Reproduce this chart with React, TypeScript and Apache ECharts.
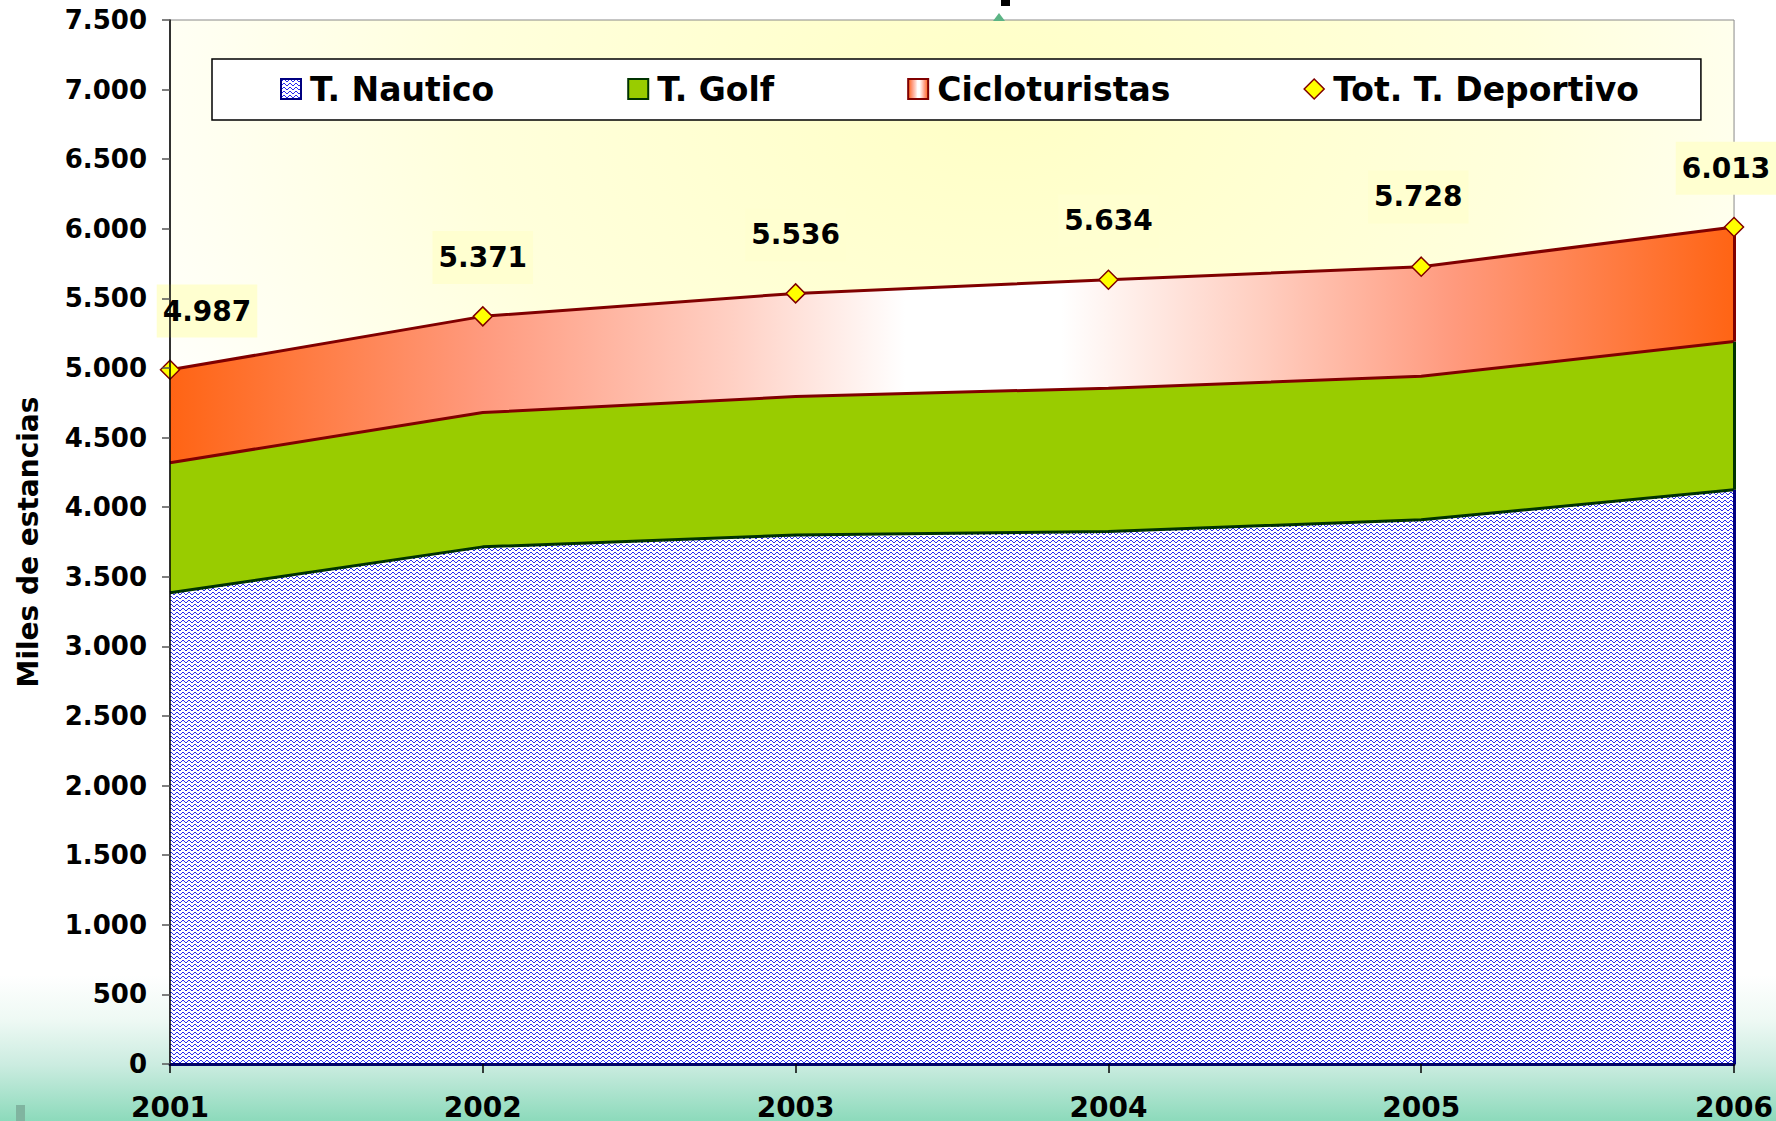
import React, { useEffect, useRef } from "react";
import * as echarts from "echarts";

const years = ["2001", "2002", "2003", "2004", "2005", "2006"];
const nautico = [3385, 3715, 3800, 3825, 3910, 4125];
const golf = [935, 965, 995, 1030, 1030, 1065];
const ciclo = [667, 691, 741, 779, 788, 823];
const total = [4987, 5371, 5536, 5634, 5728, 6013];
const yMin = 0;
const yMax = 7500;
const yStep = 500;
const legendNames = ["T. Nautico", "T. Golf", "Cicloturistas", "Tot. T. Deportivo"];
const yAxisName = "Miles de estancias";

const FONT = "DejaVu Sans";

function fmt(v: number) {
  return String(Math.round(v)).replace(/\B(?=(\d{3})+(?!\d))/g, ".");
}

function makePattern() {
  const c = document.createElement("canvas");
  c.width = 6;
  c.height = 4;
  const ctx = c.getContext("2d")!;
  ctx.fillStyle = "#ffffff";
  ctx.fillRect(0, 0, 6, 4);
  ctx.fillStyle = "#2a2aee";
  const rows = ["..XX..", ".X..X.", "X....X", "......"];
  rows.forEach((r, y) => {
    for (let x = 0; x < r.length; x++) if (r[x] === "X") ctx.fillRect(x, y, 1, 1);
  });
  return c;
}

export default function App() {
  const ref = useRef<HTMLDivElement>(null);
  useEffect(() => {
    if (!ref.current) return;
    const chart = echarts.init(ref.current, undefined, { renderer: "svg" });
    const pattern = { image: makePattern(), repeat: "repeat" } as any;
    const cicloGrad = () =>
      new echarts.graphic.LinearGradient(0, 0, 1, 0, [
        { offset: 0, color: "#ff6414" },
        { offset: 0.2, color: "#ff9a7e" },
        { offset: 0.36, color: "#ffd0c4" },
        { offset: 0.47, color: "#ffffff" },
        { offset: 0.57, color: "#ffffff" },
        { offset: 0.7, color: "#ffcdbf" },
        { offset: 0.82, color: "#ff9a7e" },
        { offset: 1, color: "#ff6414" },
      ]);
    const legendText = {
      fontSize: 33,
      fontWeight: "bold",
      fontFamily: FONT,
      color: "#000",
      lineHeight: 36,
      padding: [0, 0, 0, 4],
    };
    const last = years.length - 1;
    chart.setOption({
      animation: false,
      backgroundColor: "transparent",
      textStyle: { fontFamily: FONT },
      grid: {
        left: 170,
        right: 40,
        top: 20,
        bottom: 56,
        show: true,
        borderColor: "#8a8a8a",
        borderWidth: 1,
        backgroundColor: new echarts.graphic.RadialGradient(0.53, 0.08, 0.62, [
          { offset: 0, color: "#ffffc6" },
          { offset: 0.55, color: "#ffffdc" },
          { offset: 1, color: "#ffffff" },
        ]),
      },
      legend: {
        left: 212,
        top: 59,
        orient: "horizontal",
        itemGap: 133,
        itemWidth: 20,
        itemHeight: 20,
        padding: [12, 62, 13, 68],
        backgroundColor: "#ffffff",
        borderColor: "#000000",
        borderWidth: 1.5,
        textStyle: legendText,
        selectedMode: false,
        data: [
          {
            name: legendNames[0],
            icon: "rect",
            itemStyle: { color: pattern, borderColor: "#000080", borderWidth: 2 },
          },
          {
            name: legendNames[1],
            icon: "rect",
            itemStyle: { color: "#99cc00", borderColor: "#003300", borderWidth: 2 },
          },
          {
            name: legendNames[2],
            icon: "rect",
            itemStyle: { color: cicloGrad(), borderColor: "#800000", borderWidth: 2 },
          },
          {
            name: legendNames[3],
            icon: "diamond",
            itemStyle: { color: "#ffff00", borderColor: "#800000", borderWidth: 1.5 },
          },
        ],
      },
      xAxis: {
        type: "category",
        data: years,
        boundaryGap: false,
        z: 10,
        axisLine: { lineStyle: { color: "#000066", width: 3 } },
        axisTick: { show: true, length: 9, lineStyle: { color: "#000", width: 1.5 } },
        axisLabel: {
          fontSize: 28,
          fontWeight: "bold",
          fontFamily: FONT,
          color: "#000",
          margin: 29,
        },
        splitLine: { show: false },
      },
      yAxis: {
        type: "value",
        min: yMin,
        max: yMax,
        interval: yStep,
        z: 10,
        name: yAxisName,
        nameLocation: "middle",
        nameRotate: 90,
        nameGap: 128,
        nameTextStyle: { fontSize: 28, fontWeight: "bold", fontFamily: FONT, color: "#000" },
        axisLine: { show: true, lineStyle: { color: "#000", width: 1.5 } },
        axisTick: { show: true, length: 8, lineStyle: { color: "#555", width: 1.5 } },
        axisLabel: {
          fontSize: 26,
          fontWeight: "bold",
          fontFamily: FONT,
          color: "#000",
          margin: 23,
          formatter: (v: number) => fmt(v),
        },
        splitLine: { show: false },
      },
      graphic: [
        { type: "rect", shape: { x: 1001, y: 0, width: 9, height: 6 }, style: { fill: "#000" } },
        {
          type: "polygon",
          shape: { points: [[993, 21], [999, 13], [1005, 21]] },
          style: { fill: "#5cb485" },
        },
        { type: "rect", shape: { x: 16, y: 1105, width: 9, height: 16 }, style: { fill: "#80b4a0" } },
      ],
      series: [
        {
          name: legendNames[0],
          type: "line",
          stack: "areas",
          data: nautico,
          symbol: "none",
          lineStyle: { width: 0 },
          itemStyle: { color: "#2a2aee" },
          areaStyle: { color: pattern, opacity: 1 },
          z: 2,
        },
        {
          name: legendNames[1],
          type: "line",
          stack: "areas",
          data: golf,
          symbol: "none",
          lineStyle: { width: 0 },
          itemStyle: { color: "#99cc00" },
          areaStyle: { color: "#99cc00", opacity: 1 },
          z: 2,
        },
        {
          name: legendNames[2],
          type: "line",
          stack: "areas",
          data: ciclo,
          symbol: "none",
          lineStyle: { width: 0 },
          itemStyle: { color: "#ff6414" },
          areaStyle: { color: cicloGrad(), opacity: 1 },
          z: 2,
        },
        {
          name: "_l1",
          type: "line",
          stack: "lines",
          data: nautico,
          symbol: "none",
          silent: true,
          lineStyle: { color: "#003300", width: 3 },
          z: 3,
        },
        {
          name: "_l2",
          type: "line",
          stack: "lines",
          data: golf,
          symbol: "none",
          silent: true,
          lineStyle: { color: "#800000", width: 3 },
          z: 3,
        },
        {
          name: "_l3",
          type: "line",
          stack: "lines",
          data: ciclo,
          symbol: "none",
          silent: true,
          lineStyle: { color: "#800000", width: 3 },
          z: 3,
        },
        {
          name: legendNames[3],
          type: "line",
          data: total.map((v, i) => ({
            value: v,
            label:
              i === 0
                ? { offset: [37, 0] }
                : i === last
                ? { offset: [-8, 0] }
                : i === last - 1
                ? { offset: [-3, -11] }
                : {},
          })),
          symbol: "diamond",
          symbolSize: 19,
          lineStyle: { opacity: 0, width: 0 },
          itemStyle: { color: "#ffff00", borderColor: "#800000", borderWidth: 1.5 },
          label: {
            show: true,
            position: "top",
            distance: 22,
            fontSize: 28,
            fontWeight: "bold",
            fontFamily: FONT,
            color: "#000",
            backgroundColor: "#ffffd0",
            padding: [12, 6],
            lineHeight: 29,
            formatter: (p: any) => fmt(p.value),
          },
          z: 6,
          markLine: {
            silent: true,
            symbol: ["none", "none"],
            label: { show: false },
            data: [
              [
                { coord: [years[last], 0], lineStyle: { color: "#000080", width: 3, type: "solid" } },
                { coord: [years[last], nautico[last]] },
              ],
              [
                {
                  coord: [years[last], nautico[last]],
                  lineStyle: { color: "#003300", width: 3, type: "solid" },
                },
                { coord: [years[last], nautico[last] + golf[last]] },
              ],
              [
                {
                  coord: [years[last], nautico[last] + golf[last]],
                  lineStyle: { color: "#800000", width: 3, type: "solid" },
                },
                { coord: [years[last], total[last]] },
              ],
            ],
          },
        },
      ],
    });
    return () => chart.dispose();
  }, []);
  return (
    <div
      ref={ref}
      style={{
        position: "fixed",
        left: 0,
        top: 0,
        width: "100vw",
        height: "100vh",
        background:
          "linear-gradient(to bottom, #ffffff 0%, #ffffff 87%, #eef9f4 91%, #cbece0 95%, #8cdabb 100%)",
      }}
    />
  );
}
